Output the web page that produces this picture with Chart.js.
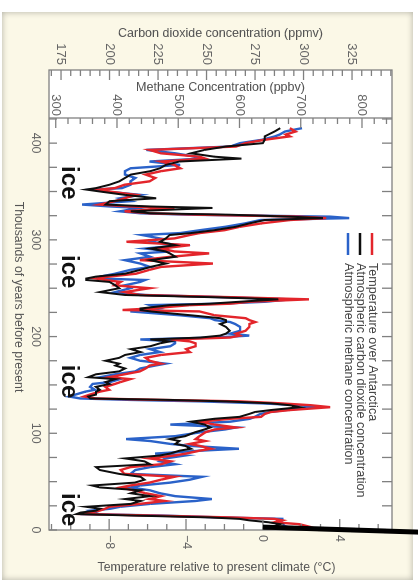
<!DOCTYPE html>
<html>
<head>
<meta charset="utf-8">
<script src="https://cdn.jsdelivr.net/npm/chart.js@4"></script>
<style>
  html, body { margin: 0; padding: 0; background: #fff; }
  #wrap { position: relative; width: 418px; height: 584px; overflow: hidden; }
  #panel { position: absolute; left: 2px; top: 12px; width: 411px; height: 568px;
           background: #fbf8e7; box-shadow: inset 0 0 6px rgba(0,0,0,0.3); }
  /* the plot is laid out landscape and turned a quarter clockwise */
  #chart { position: absolute; left: 0; top: 0; transform-origin: 0 0;
           transform: translate(418px, 0) rotate(90deg); }
</style>
</head>
<body>
<div id="wrap">
  <div id="panel"></div>
  <canvas id="chart" width="584" height="418"></canvas>
</div>
<script>
// thousands of years before present
const ages = [
  0, 2, 4, 6, 8, 10, 11.5, 13, 15, 16.5, 18, 20, 22, 24,
  27, 30, 32, 35, 38, 41, 44, 46, 49, 52, 55, 58,
  62, 65, 68, 71, 74, 77, 79, 82, 84, 87, 89, 92, 94, 97, 101, 104, 106, 109,
  112, 115, 117, 120, 122, 124, 127, 129, 131, 133, 134.5, 136, 138, 140,
  143, 145, 148, 151, 153, 156, 158, 161, 164, 167, 170, 172, 175, 178, 181, 184, 187, 190, 193, 195, 197,
  199, 201, 203, 206, 210, 213, 215, 217, 219, 222, 226, 227.5, 229, 232.5, 234, 236, 238.5, 240.5,
  243, 246, 250, 253, 256.5, 258.5, 260, 262, 265, 269, 272, 275.5, 279, 282.5, 286, 288, 291, 294.5, 298,
  301.5, 305, 307, 310, 313.5, 317, 320.5, 322.5, 324, 326, 327.5, 329.5, 333, 334.5, 336.5, 340, 343, 346.5,
  350, 352, 353.5, 357, 360.5, 364, 367.5, 371, 374, 377.5, 381, 384, 386, 389.5, 393, 396.5, 400, 403.5, 407, 409, 412, 415.5
];

// temperature over Antarctica, degC relative to present
const temperature = [
  0.0, 1.4, 2.3, 1.9, 0.6, 1.0, 0.6, -1.7, -5.9, -9.3, -9.0, -8.5, -8.2, -8.0,
  -6.4, -5.1, -5.9, -5.3, -6.1, -6.7, -7.4, -6.9, -5.9, -5.3, -4.6, -7.2,
  -7.4, -6.9, -5.3, -4.8, -5.9, -4.6, -4.0, -3.3, -2.7, -3.3, -3.8, -3.0, -3.5, -3.3, -3.0, -2.5, -1.4, -2.5,
  -3.3, -1.7, -0.1, 0.1, 0.4, 1.4, 3.5, 2.5, 0.9, -1.2, -5.3, -8.7, -9.3, -9.0,
  -8.5, -8.0, -8.2, -7.7, -7.4, -6.9, -8.0, -7.2, -6.4, -6.1, -5.9, -5.3, -5.9, -6.1, -5.3, -3.8, -4.0, -3.5, -3.5, -3.8, -4.8,
  -1.7, -1.2, -1.4, -0.9, -0.7, -0.7, -0.4, -0.7, -0.9, -2.5, -3.3, -7.3, -5.9, -3.8, -1.7, -0.7, 2.4, -1.2,
  -6.4, -7.2, -5.9, -7.7, -7.4, -8.2, -8.7, -8.0, -6.6, -5.9, -5.3, -2.6, -6.4, -4.8, -2.8, -4.6, -5.3, -3.8, -7.1,
  -4.6, -3.8, -3.3, -2.0, -1.2, -0.1, 1.4, 3.3, 1.9, -3.3, -5.9, -7.2, -4.6, -6.9, -8.5, -7.7, -7.2, -6.6,
  -8.0, -8.5, -7.7, -7.2, -5.9, -5.6, -6.1, -5.3, -4.3, -4.6, -5.3, -3.0, -3.3, -5.3, -5.9, -1.4, -0.9, 0.1, 1.4, 1.2, 1.7, 1.4
];

// carbon dioxide, ppmv
const co2 = [
  279, 283, 285, 288, 282, 272, 267, 252, 211, 183, 185, 193, 195, 188,
  211, 216, 208, 221, 211, 216, 195, 191, 213, 218, 216, 205,
  195, 193, 221, 218, 208, 226, 231, 236, 242, 239, 234, 236, 231, 239, 244, 249, 252, 249,
  242, 254, 267, 272, 275, 283, 298, 293, 283, 260, 231, 190, 189, 193,
  193, 195, 193, 200, 198, 203, 189, 193, 205, 208, 203, 205, 198, 205, 208, 216, 211, 221, 226, 231, 221,
  247, 257, 260, 262, 260, 257, 260, 260, 257, 242, 221, 216, 216, 231, 252, 267, 287, 257,
  208, 195, 205, 203, 200, 188, 188, 193, 208, 216, 221, 229, 221, 234, 231, 229, 221, 234, 226,
  229, 231, 242, 254, 265, 272, 280, 310, 293, 262, 221, 211, 253, 221, 198, 200, 224, 208,
  195, 188, 193, 200, 205, 208, 211, 221, 226, 229, 236, 268, 254, 242, 249, 260, 279, 280, 280, 282, 285, 288
];

// methane, ppbv
const methane = [
  674, 683, 674, 671, 666, 670, 670, 568, 470, 340, 364, 356, 389, 405,
  454, 528, 555, 495, 470, 454, 422, 438, 487, 519, 539, 422,
  430, 454, 495, 470, 479, 511, 462, 536, 599, 519, 487, 454, 415, 495, 536, 577, 594, 487,
  585, 617, 625, 634, 650, 674, 723, 699, 634, 536, 422, 340, 322, 332,
  348, 364, 356, 360, 389, 405, 373, 397, 430, 438, 462, 479, 438, 422, 438, 470, 454, 487, 495, 495, 438,
  560, 616, 585, 601, 601, 593, 585, 560, 552, 503, 422, 454, 470, 454, 568, 642, 683, 585,
  446, 397, 422, 413, 438, 446, 373, 373, 397, 422, 454, 438, 413, 454, 438, 487, 446, 503, 454,
  470, 441, 503, 536, 577, 609, 634, 779, 748, 519, 438, 405, 438, 389, 343, 422, 405, 438,
  381, 364, 408, 422, 422, 430, 413, 413, 422, 503, 453, 536, 528, 495, 448, 585, 601, 637, 658, 666, 674, 702
];

// glacial periods marked on the plot
const iceAges = [359, 267, 153.5, 21];

const seriesNames = [
  'Temperature over Antarctica',
  'Atmospheric carbon dioxide concentration',
  'Atmospheric methane concentration'
];
const seriesColors = ['#e3252b', '#0e0e0e', '#2a62c9'];

const FONT = '"Liberation Sans", Arial, Helvetica, sans-serif';
const TICK_INK = '#666';
const TITLE_INK = '#555';

function points(values) {
  return ages.map((a, i) => ({ x: a, y: values[i] }));
}

const minus = v => String(v).replace('-', '\u2212');

// box, inward ticks, legend, annotations
const decorations = {
  id: 'decorations',
  beforeDraw(chart) {
    const { ctx, chartArea: a, scales } = chart;
    const left = scales.co2.right;
    ctx.save();
    ctx.fillStyle = '#ffffff';
    ctx.fillRect(left, a.top, a.right - left, a.bottom - a.top);
    ctx.restore();
  },
  afterDraw(chart) {
    const { ctx, chartArea: a, scales } = chart;
    const { x, temp, co2: c, ch4: m } = scales;
    const boxLeft = c.right;
    const seg = (x1, y1, x2, y2) => {
      ctx.beginPath(); ctx.moveTo(x1, y1); ctx.lineTo(x2, y2); ctx.stroke();
    };

    ctx.save();
    ctx.strokeStyle = '#808080';
    ctx.lineWidth = 1.3;
    ctx.strokeRect(boxLeft, a.top, a.right - boxLeft, a.bottom - a.top);
    seg(a.left, a.top, a.left, a.bottom);

    for (let v = Math.ceil(c.min / 5) * 5; v <= c.max; v += 5) {
      const p = c.getPixelForValue(v);
      seg(boxLeft, p, boxLeft + (v % 25 === 0 ? 10 : 6), p);
    }
    for (let v = Math.ceil(m.min / 20) * 20; v <= m.max; v += 20) {
      const p = m.getPixelForValue(v);
      seg(a.left, p, a.left + (v % 100 === 0 ? 10 : 6), p);
    }
    for (let v = Math.ceil(temp.min); v <= temp.max; v += 1) {
      const p = temp.getPixelForValue(v);
      seg(a.right, p, a.right - (v % 4 === 0 ? 11 : 6), p);
    }
    for (let v = 0; v <= x.max; v += 25) {
      const p = x.getPixelForValue(v);
      seg(p, a.bottom, p, a.bottom - 8);
      seg(p, a.top, p, a.top + 10);
    }

    // legend
    ctx.font = '12.6px ' + FONT;
    ctx.textBaseline = 'middle';
    ctx.textAlign = 'left';
    seriesNames.forEach((name, i) => {
      const y = a.top + 20 + i * 12;
      ctx.strokeStyle = seriesColors[i];
      ctx.lineWidth = 2.5;
      seg(a.left + 115, y, a.left + 137, y);
      ctx.fillStyle = '#444';
      ctx.fillText(name, a.left + 145, y);
    });

    // ice labels
    ctx.font = 'bold 24px ' + FONT;
    ctx.fillStyle = '#111';
    ctx.textAlign = 'center';
    ctx.textBaseline = 'alphabetic';
    iceAges.forEach(age => ctx.fillText('ice', x.getPixelForValue(age), a.bottom - 13));

    // axis titles
    ctx.fillStyle = TITLE_INK;
    ctx.font = '12.3px ' + FONT;
    ctx.textBaseline = 'middle';
    ctx.fillText('Thousands of years before present', (boxLeft + a.right) / 2 - 3, a.bottom + 31);
    ctx.save();
    ctx.translate(a.right + 38, (a.top + a.bottom) / 2 + 4);
    ctx.rotate(-Math.PI / 2);
    ctx.fillText('Temperature relative to present climate (\u00B0C)', 0, 0);
    ctx.restore();

    // pointer line from the present-day value
    const px = x.getPixelForValue(3);
    const py = temp.getPixelForValue(0);
    ctx.strokeStyle = '#000';
    ctx.lineWidth = 5;
    seg(px, py, px + 5, 0);
    ctx.restore();
  }
};

new Chart(document.getElementById('chart'), {
  type: 'scatter',
  data: {
    datasets: [
      { label: seriesNames[0], data: points(temperature), yAxisID: 'temp',
        borderColor: seriesColors[0], borderWidth: 2.4, showLine: true, pointRadius: 0, order: 1 },
      { label: seriesNames[1], data: points(co2), yAxisID: 'co2',
        borderColor: seriesColors[1], borderWidth: 2, showLine: true, pointRadius: 0, order: 0 },
      { label: seriesNames[2], data: points(methane), yAxisID: 'ch4',
        borderColor: seriesColors[2], borderWidth: 2.4, showLine: true, pointRadius: 0, order: 2 }
    ]
  },
  options: {
    responsive: false,
    animation: false,
    devicePixelRatio: 1,
    layout: { padding: { top: 26, left: 0, right: 0, bottom: 0 } },
    plugins: { legend: { display: false }, tooltip: { enabled: false } },
    elements: { line: { tension: 0 } },
    scales: {
      x: {
        type: 'linear', position: 'bottom', reverse: true, min: 0, max: 426,
        grid: { display: false, drawTicks: false }, border: { display: false },
        ticks: { stepSize: 100, includeBounds: false, padding: 6, maxRotation: 0,
                 color: TICK_INK, font: { family: FONT, size: 12.5 } },
        afterFit: s => { s.height = 49; }
      },
      temp: {
        type: 'linear', position: 'right', min: -11.13, max: 6.72,
        grid: { display: false, drawTicks: false }, border: { display: false },
        ticks: { stepSize: 4, includeBounds: false, padding: 5,
                 color: TICK_INK, font: { family: FONT, size: 12.5 }, callback: minus },
        afterFit: s => { s.width = 54; }
      },
      ch4: {
        type: 'linear', position: 'left', weight: 0, min: 289, max: 849,
        grid: { display: false, drawTicks: false }, border: { display: false },
        ticks: { stepSize: 100, includeBounds: false, padding: 2,
                 color: TICK_INK, font: { family: FONT, size: 13 } },
        title: { display: true, text: 'Methane Concentration (ppbv)', color: TITLE_INK,
                 font: { family: FONT, size: 12.5 }, padding: { top: 10, bottom: 0 } },
        afterFit: s => { s.width = 48; }
      },
      co2: {
        type: 'linear', position: 'left', weight: 1, min: 168.8, max: 345.6,
        grid: { display: false, drawTicks: false }, border: { display: false },
        ticks: { stepSize: 25, includeBounds: false, padding: 5,
                 color: TICK_INK, font: { family: FONT, size: 13 } },
        title: { display: true, text: 'Carbon dioxide concentration (ppmv)', color: TITLE_INK,
                 font: { family: FONT, size: 12.5 }, padding: { top: 26, bottom: 0 } },
        afterFit: s => { s.width = 70; }
      }
    }
  },
  plugins: [decorations]
});
</script>
</body>
</html>
